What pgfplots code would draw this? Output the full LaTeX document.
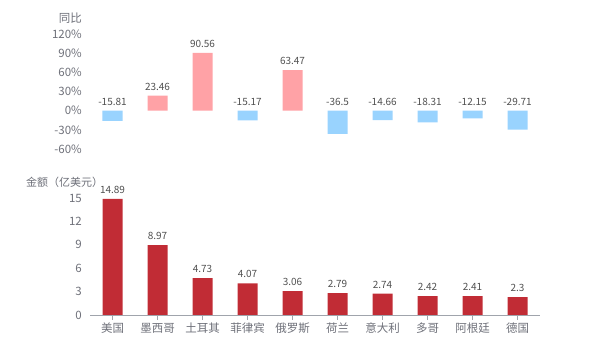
\documentclass[border=0pt]{standalone}
\usepackage{fontspec}
\setmainfont{Noto Sans CJK SC}
\usepackage{pgfplots}
\pgfplotsset{compat=1.18}
\definecolor{pinkbar}{HTML}{FFA2A6}
\definecolor{bluebar}{HTML}{99D3FE}
\definecolor{redbar}{HTML}{C12C35}
\definecolor{ticktext}{HTML}{6E7079}
\definecolor{labtext}{HTML}{505050}
\definecolor{axisgray}{HTML}{A0A4AC}
\begin{document}
\begin{tikzpicture}
\path[use as bounding box] (0pt,0pt) rectangle (600pt,350pt);
\begin{axis}[
  at={(90pt,201pt)}, anchor=south west, scale only axis, width=450pt, height=115pt,
  xmin=-0.5, xmax=9.5, ymin=-60, ymax=120,
  ytick={-60,-30,...,120}, yticklabel={\pgfmathprintnumber{\tick}\%},
  xtick=\empty, axis line style={draw=none}, major tick length=0,
  /pgf/number format/assume math mode=true,
  yticklabel style={font=\fontsize{11.5}{13}\selectfont, text=ticktext, inner sep=0pt, xshift=-8pt},
  clip=false,
]
\addplot[ybar, bar width=20pt, bar shift=0pt, fill=pinkbar, draw=none] coordinates {(1,23.46)(2,90.56)(4,63.47)};
\addplot[ybar, bar width=20pt, bar shift=0pt, fill=bluebar, draw=none] coordinates {(0,-15.81)(3,-15.17)(5,-36.5)(6,-14.66)(7,-18.31)(8,-12.15)(9,-29.71)};
\addplot[draw=none, nodes near coords, point meta=explicit symbolic,
  nodes near coords style={font=\fontsize{10}{12}\selectfont, text=labtext, anchor=south, inner sep=0pt, yshift=5pt}]
  coordinates {(0,0)[-15.81] (1,23.46)[23.46] (2,90.56)[90.56] (3,0)[-15.17] (4,63.47)[63.47] (5,0)[-36.5] (6,0)[-14.66] (7,0)[-18.31] (8,0)[-12.15] (9,0)[-29.71]};
\end{axis}
\begin{axis}[
  at={(90pt,35pt)}, anchor=south west, scale only axis, width=450pt, height=117pt,
  xmin=-0.5, xmax=9.5, ymin=0, ymax=15,
  ytick={0,3,...,15},
  xtick={0,...,9},
  xticklabels={美国,墨西哥,土耳其,菲律宾,俄罗斯,荷兰,意大利,多哥,阿根廷,德国},
  axis x line*=bottom, axis y line*=left,
  y axis line style={draw=none},
  x axis line style={draw=axisgray, -},
  ytick style={draw=none},
  xtick style={draw=axisgray},
  tick align=outside, major tick length=5pt,
  /pgf/number format/assume math mode=true,
  yticklabel style={font=\fontsize{11.5}{13}\selectfont, text=ticktext, inner sep=0pt, xshift=-3pt},
  xticklabel style={font=\fontsize{11.5}{13}\selectfont, text=ticktext, inner sep=0pt, yshift=-3pt},
  clip=false,
]
\addplot[ybar, bar width=20pt, bar shift=0pt, fill=redbar, draw=none,
  nodes near coords, nodes near coords style={font=\fontsize{10}{12}\selectfont, text=labtext, anchor=south, inner sep=0pt, yshift=5pt},
  point meta=explicit symbolic]
  coordinates {(0,14.89)[14.89] (1,8.97)[8.97] (2,4.73)[4.73] (3,4.07)[4.07] (4,3.06)[3.06] (5,2.79)[2.79] (6,2.74)[2.74] (7,2.42)[2.42] (8,2.41)[2.41] (9,2.3)[2.3]};
\end{axis}
\node[anchor=east, font=\fontsize{11.5}{13}\selectfont, text=ticktext, inner sep=0pt] at (82pt,332pt) {同比};
\node[anchor=west, font=\fontsize{11}{13}\selectfont, text=ticktext, inner sep=0pt] at (26pt,168pt) {金额（亿美元）};
\end{tikzpicture}
\end{document}
